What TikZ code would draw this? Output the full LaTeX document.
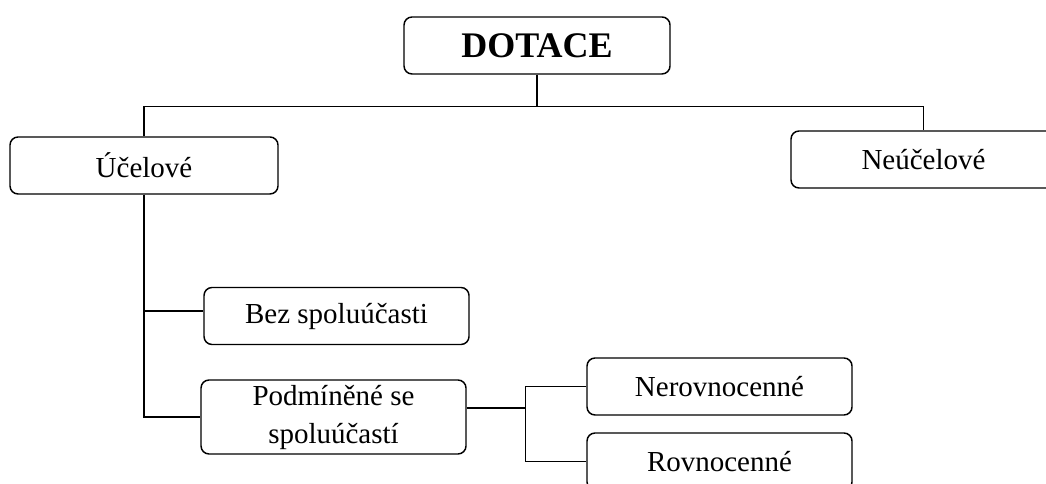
\documentclass[tikz,border=0pt]{standalone}
\usepackage{fontspec}
\setmainfont{Liberation Serif}
\usetikzlibrary{positioning}
\begin{document}
\begin{tikzpicture}[x = 0.75pt, y = -0.75pt, line width = 1.1pt,
    box/.style = {draw, rounded corners = 6pt, inner sep = 0pt,
        minimum width = 198.75pt, minimum height = 42.75pt,
        font = \fontsize{21.75}{28.5}\selectfont, align = center}]
    \useasboundingbox (0,0) rectangle (1046,484);
    \clip (0,0) rectangle (1046,484);
    % boxes
    \node[box, minimum width = 199.5pt,
        font = \fontsize{27}{32}\selectfont\bfseries] (dotace) at (537,45.5) {DOTACE};
    \node[box, minimum width = 201pt] (ucel) at (144,165.5) {Účelové};
    \node[box] (neucel) at (923.5,159.5) {Neúčelové};
    \node[box] (bez) at (336.5,316) {Bez spoluúčasti};
    \node[box, minimum height = 55.5pt] (podm) at (333.5,417) {Podmíněné se\\spoluúčastí};
    \node[box] (nerov) at (719.5,386.5) {Nerovnocenné};
    \node[box] (rov) at (719.5,461.5) {Rovnocenné};
    % connectors
    \draw (dotace.south) -- ++(0,32) coordinate (split);
    \draw (ucel.north) |- (split) -| (neucel.north);
    \draw (ucel.south) |- (podm.west);
    \draw (ucel.south |- bez.west) ++(0,-5) -- ([yshift=3.75pt]bez.west);
    \draw ([yshift=6.75pt]podm.east) -- ++(59,0) coordinate (fork);
    \draw (nerov.west) -| (fork) |- (rov.west);
\end{tikzpicture}
\end{document}
